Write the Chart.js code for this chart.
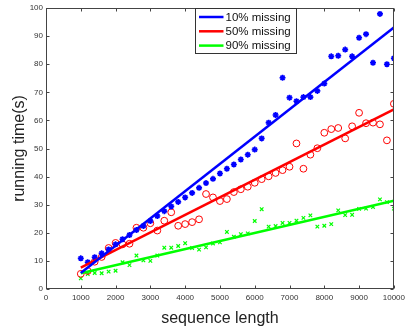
<!DOCTYPE html>
<html>
<head>
<meta charset="utf-8">
<script src="https://cdn.jsdelivr.net/npm/chart.js@4/dist/chart.umd.min.js"></script>
<style>
  html, body { margin: 0; padding: 0; background: #fff; }
  canvas { display: block; }
</style>
</head>
<body>
<canvas id="chart" width="409" height="328"></canvas>
<script>
// valeurs
const seqLength = [1000, 1200, 1400, 1600, 1800, 2000, 2200, 2400, 2600, 2800,
  3000, 3200, 3400, 3600, 3800, 4000, 4200, 4400, 4600, 4800,
  5000, 5200, 5400, 5600, 5800, 6000, 6200, 6400, 6600, 6800,
  7000, 7200, 7400, 7600, 7800, 8000, 8200, 8400, 8600, 8800,
  9000, 9200, 9400, 9600, 9800, 10000];

const missing10 = [10.9, 9.5, 11.3, 12.7, 14.1, 15.9, 17.7, 19.2, 21.0, 22.4,
  24.2, 26.0, 27.7, 29.4, 31.0, 32.6, 34.2, 36.0, 37.7, 39.2,
  41.1, 42.8, 44.3, 46.1, 47.8, 49.6, 53.6, 59.2, 61.9, 75.2,
  68.1, 66.8, 68.3, 68.3, 70.5, 73.1, 82.8, 83.0, 85.2, 82.8,
  89.4, 90.7, 80.5, 97.9, 80.0, 82.1];

const missing50 = [5.4, 6.4, 9.7, 11.4, 14.6, 16.4, 15.9, 16.1, 21.8, 21.8,
  23.4, 20.8, 24.3, 27.3, 22.5, 23.1, 23.8, 24.8, 33.8, 32.6,
  31.3, 32.0, 34.5, 35.5, 36.4, 37.8, 39.1, 40.1, 41.3, 42.3,
  43.5, 51.8, 42.8, 47.8, 50.1, 55.6, 56.9, 57.3, 53.6, 57.9,
  62.7, 59.0, 59.2, 58.6, 52.9, 65.9];

const missing90 = [3.8, 5.3, 5.7, 5.6, 6.2, 6.5, 9.5, 8.5, 11.9, 10.2,
  10.0, 11.9, 14.7, 14.7, 15.3, 16.3, 14.6, 14.0, 14.8, 16.2,
  16.6, 20.3, 18.6, 19.5, 19.8, 24.2, 28.4, 22.2, 22.4, 23.5,
  23.5, 24.3, 25.3, 26.2, 22.2, 22.5, 23.1, 28.0, 26.3, 26.4,
  28.5, 28.6, 29.2, 31.9, 30.9, 28.6];

// droites d'ajustement (extrémités)
const fitX = [1000, 10000];
const fit10 = [5.7, 93.1];
const fit50 = [7.6, 63.9];
const fit90 = [5.6, 31.4];

const seriesNames = ['10% missing', '50% missing', '90% missing'];
const seriesColors = ['#0000ff', '#ff0000', '#00ff00'];

const FONT = "'Liberation Sans', Arial, Helvetica, sans-serif";
const AXIS_COLOR = '#444';

function toPoints(xs, ys) {
    return xs.map((x, i) => ({ x: x, y: ys[i] }));
}

// cadre façon MATLAB avec graduations vers l'intérieur
const boxPlugin = {
    id: 'box',
    afterDatasetsDraw(chart) {
        const { ctx, chartArea: a, scales } = chart;
        const L = Math.round(a.left) + 0.5, R = Math.round(a.right) - 0.5;
        const T = Math.round(a.top) + 0.5, B = Math.round(a.bottom) - 0.5;
        ctx.save();
        ctx.strokeStyle = AXIS_COLOR;
        ctx.lineWidth = 1;
        ctx.strokeRect(L, T, R - L, B - T);
        ctx.beginPath();
        scales.x.ticks.forEach((t, i) => {
            const px = Math.round(scales.x.getPixelForTick(i)) + 0.5;
            ctx.moveTo(px, B); ctx.lineTo(px, B - 3);
            ctx.moveTo(px, T); ctx.lineTo(px, T + 3);
        });
        scales.y.ticks.forEach((t, i) => {
            const py = Math.round(scales.y.getPixelForTick(i)) + 0.5;
            ctx.moveTo(L, py); ctx.lineTo(L + 3, py);
            ctx.moveTo(R, py); ctx.lineTo(R - 3, py);
        });
        ctx.stroke();

        // légende
        const bx = Math.round(a.left + 149) + 0.5, by = T;
        const bw = 101, bh = 45;
        ctx.fillStyle = '#fff';
        ctx.fillRect(bx, by, bw, bh);
        ctx.strokeStyle = '#333';
        ctx.strokeRect(bx, by, bw, bh);
        ctx.font = '11.5px ' + FONT;
        ctx.textBaseline = 'middle';
        ctx.textAlign = 'left';
        seriesNames.forEach((name, i) => {
            const y = by + 8.5 + i * 14.3;
            ctx.strokeStyle = seriesColors[i];
            ctx.lineWidth = 2.5;
            ctx.beginPath();
            ctx.moveTo(bx + 3.5, y);
            ctx.lineTo(bx + 28, y);
            ctx.stroke();
            ctx.fillStyle = '#111';
            ctx.fillText(name, bx + 30, y + 0.5);
        });
        ctx.restore();
    }
};

const ctx = document.getElementById('chart').getContext('2d');
new Chart(ctx, {
    type: 'scatter',
    data: {
        datasets: [
            {
                label: seriesNames[0] + ' fit',
                data: toPoints(fitX, fit10),
                showLine: true,
                borderColor: seriesColors[0],
                borderWidth: 2.5,
                pointRadius: 0,
                order: 1
            },
            {
                label: seriesNames[1] + ' fit',
                data: toPoints(fitX, fit50),
                showLine: true,
                borderColor: seriesColors[1],
                borderWidth: 2.5,
                pointRadius: 0,
                order: 1
            },
            {
                label: seriesNames[2] + ' fit',
                data: toPoints(fitX, fit90),
                showLine: true,
                borderColor: seriesColors[2],
                borderWidth: 2.5,
                pointRadius: 0,
                order: 1
            },
            {
                label: seriesNames[0],
                data: toPoints(seqLength, missing10),
                pointStyle: 'star',
                radius: 3,
                borderWidth: 1.6,
                borderColor: seriesColors[0],
                backgroundColor: seriesColors[0],
                order: 2
            },
            {
                label: seriesNames[1],
                data: toPoints(seqLength, missing50),
                pointStyle: 'circle',
                radius: 3.4,
                borderWidth: 1,
                borderColor: seriesColors[1],
                backgroundColor: 'rgba(0,0,0,0)',
                order: 2
            },
            {
                label: seriesNames[2],
                data: toPoints(seqLength, missing90),
                pointStyle: 'crossRot',
                radius: 2.5,
                borderWidth: 1.2,
                borderColor: seriesColors[2],
                order: 2
            }
        ]
    },
    options: {
        responsive: false,
        animation: false,
        devicePixelRatio: 1,
        layout: { padding: { top: 8, right: 5, left: 0, bottom: 0 } },
        plugins: {
            legend: { display: false },
            tooltip: { enabled: false }
        },
        scales: {
            x: {
                type: 'linear',
                min: 0,
                max: 10000,
                afterFit: s => { s.height = 39; },
                grid: { display: false, drawTicks: false },
                border: { display: false },
                ticks: {
                    stepSize: 1000,
                    padding: 4,
                    maxRotation: 0,
                    color: '#333',
                    font: { family: FONT, size: 8 },
                    callback: v => String(v)
                },
                title: {
                    display: true,
                    text: 'sequence length',
                    color: '#222',
                    padding: { top: 4, bottom: 0 },
                    font: { family: FONT, size: 16 }
                }
            },
            y: {
                min: 0,
                max: 100,
                afterFit: s => { s.width = 46; },
                grid: { display: false, drawTicks: false },
                border: { display: false },
                ticks: {
                    stepSize: 10,
                    padding: 3,
                    color: '#333',
                    font: { family: FONT, size: 8 },
                    callback: v => String(v)
                },
                title: {
                    display: true,
                    text: 'running time(s)',
                    color: '#222',
                    padding: { top: 10, bottom: 0 },
                    font: { family: FONT, size: 16 }
                }
            }
        }
    },
    plugins: [boxPlugin]
});
</script>
</body>
</html>
